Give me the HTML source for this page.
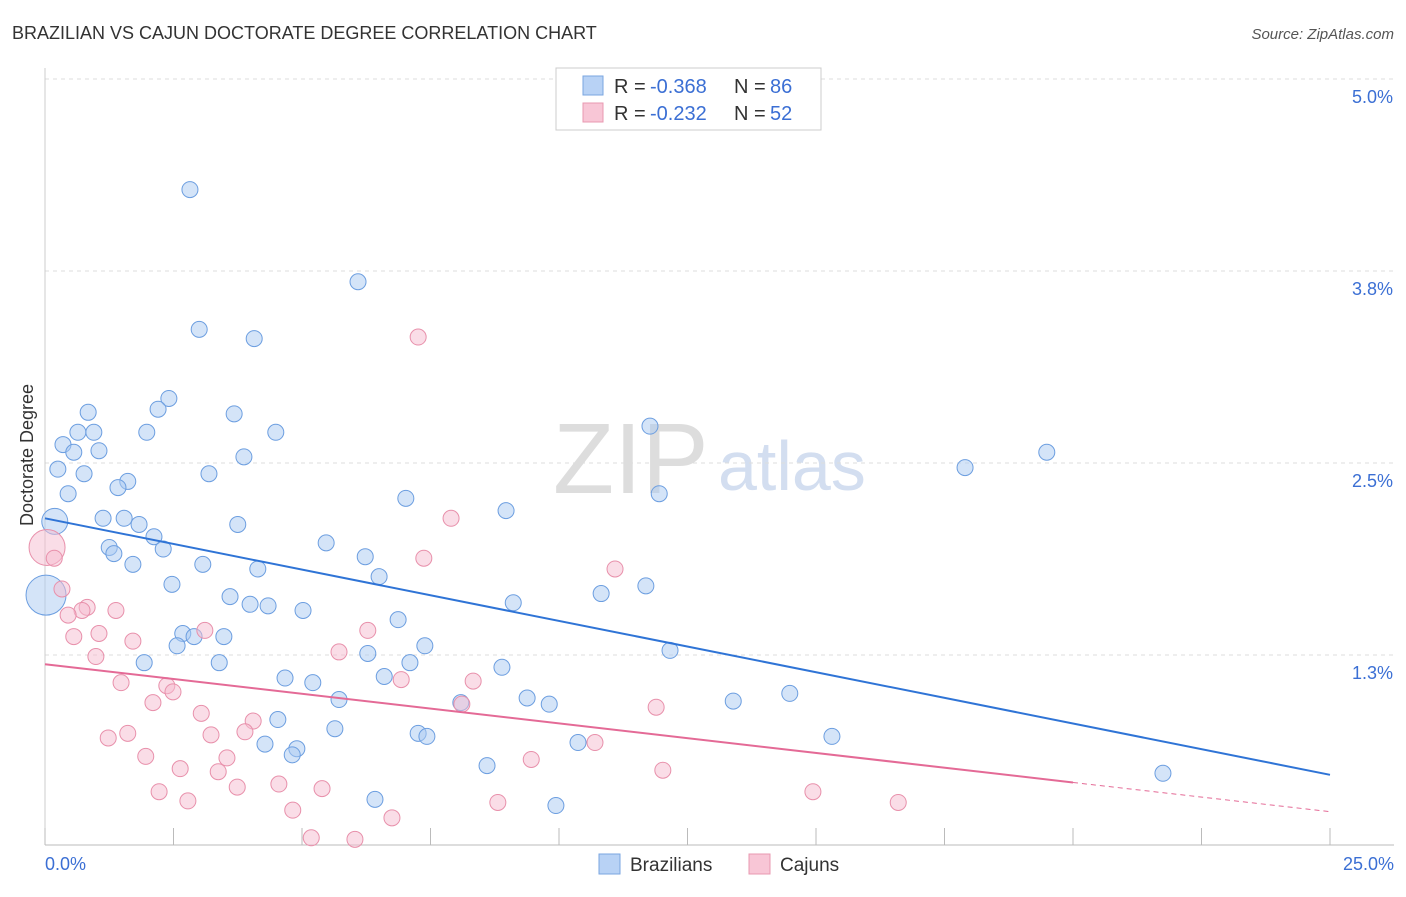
<!DOCTYPE html>
<html><head><meta charset="utf-8"><style>
body{margin:0;background:#fff;font-family:"Liberation Sans",sans-serif}
svg text{font-family:"Liberation Sans",sans-serif}
</style></head><body>
<svg width="1406" height="892">
<text x="12" y="39" font-size="18" fill="#333">BRAZILIAN VS CAJUN DOCTORATE DEGREE CORRELATION CHART</text>
<text x="1394" y="39" font-size="15" fill="#555" font-style="italic" text-anchor="end">Source: ZipAtlas.com</text>
<text x="553" y="493" font-size="100" fill="#ddd" font-family="Liberation Serif">ZIP</text>
<text x="718" y="490" font-size="70" fill="#d3def0">atlas</text>
<g id="grid"></g>
<g id="axes"></g>
<g id="marks"></g>
<text transform="translate(33,455) rotate(-90)" font-size="18" fill="#333" text-anchor="middle">Doctorate Degree</text>
<g>
<rect x="556" y="68" width="265" height="62" fill="#fff" stroke="#ccc"/>
<rect x="583" y="76" width="20" height="19" fill="#b8d2f5" stroke="#7aa6e0"/>
<text x="614" y="93" font-size="20" fill="#333">R =</text>
<text x="650" y="93" font-size="20" fill="#3b6fd4">-0.368</text>
<text x="734" y="93" font-size="20" fill="#333">N =</text>
<text x="770" y="93" font-size="20" fill="#3b6fd4">86</text>
<rect x="583" y="103" width="20" height="19" fill="#f8c6d6" stroke="#e898b0"/>
<text x="614" y="120" font-size="20" fill="#333">R =</text>
<text x="650" y="120" font-size="20" fill="#3b6fd4">-0.232</text>
<text x="734" y="120" font-size="20" fill="#333">N =</text>
<text x="770" y="120" font-size="20" fill="#3b6fd4">52</text>
</g>
<g>
<rect x="599" y="854" width="21" height="20" fill="#b8d2f5" stroke="#7aa6e0"/>
<text x="630" y="871" font-size="19" fill="#333">Brazilians</text>
<rect x="749" y="854" width="21" height="20" fill="#f8c6d6" stroke="#e898b0"/>
<text x="780" y="871" font-size="19" fill="#333">Cajuns</text>
</g>
</svg>
<script>
const xTicks=[0,2.5,5,7.5,10,12.5,15,17.5,20,22.5,25];
const yTicks=[5.0,3.75,2.5,1.25];
const yTickLabels=["5.0%","3.8%","2.5%","1.3%"];
const blueX=[2.82,6.09,3.00,4.07,2.41,2.20,0.84,3.68,0.64,0.95,1.98,4.49,0.35,0.56,1.05,3.87,0.25,0.76,3.19,1.61,1.42,0.45,7.02,11.95,11.77,17.90,19.49,8.97,0.19,1.13,1.54,1.83,3.75,2.12,1.25,1.34,2.30,5.47,6.23,1.71,3.07,4.14,6.50,0.02,2.47,3.60,3.99,4.34,5.02,10.82,11.69,9.11,6.87,2.68,2.90,3.48,2.57,7.39,6.28,12.16,1.93,3.39,7.10,8.89,4.67,5.21,6.60,5.72,9.38,8.09,9.81,13.39,14.49,4.53,5.64,7.26,7.43,10.37,15.31,4.28,4.90,4.81,8.60,21.75,6.42,9.94];
const blueY=[4.28,3.68,3.37,3.31,2.92,2.85,2.83,2.82,2.70,2.70,2.70,2.70,2.62,2.57,2.58,2.54,2.46,2.43,2.43,2.38,2.34,2.30,2.27,2.30,2.74,2.47,2.57,2.19,2.12,2.14,2.14,2.10,2.10,2.02,1.95,1.91,1.94,1.98,1.89,1.84,1.84,1.81,1.76,1.64,1.71,1.63,1.58,1.57,1.54,1.65,1.70,1.59,1.48,1.39,1.37,1.37,1.31,1.31,1.26,1.28,1.20,1.20,1.20,1.17,1.10,1.07,1.11,0.96,0.97,0.94,0.93,0.95,1.00,0.83,0.77,0.74,0.72,0.68,0.72,0.67,0.64,0.60,0.53,0.48,0.31,0.27];
const blueBig={28:13,43:20};
const pinkX=[7.26,7.90,0.04,0.18,7.37,11.09,0.33,0.82,0.72,1.38,0.45,0.56,1.05,1.71,3.11,6.28,0.99,5.72,1.48,2.37,2.49,6.93,8.33,2.10,8.11,11.89,3.04,4.05,3.23,3.89,1.23,1.61,1.96,3.54,2.63,3.37,9.46,12.02,10.70,2.22,2.78,3.74,4.55,5.39,8.81,14.94,16.60,4.82,6.75,5.18,6.03];
const pinkY=[3.32,2.14,1.95,1.88,1.88,1.81,1.68,1.56,1.54,1.54,1.51,1.37,1.39,1.34,1.41,1.41,1.24,1.27,1.07,1.05,1.01,1.09,1.08,0.94,0.93,0.91,0.87,0.82,0.73,0.75,0.71,0.74,0.59,0.58,0.51,0.49,0.57,0.50,0.68,0.36,0.30,0.39,0.41,0.38,0.29,0.36,0.29,0.24,0.19,0.06,0.05];
const pinkBig={2:18};
const blueTrendX=[0,25], blueTrendY=[2.14,0.47];
const pinkTrendX=[0,20,25], pinkTrendY=[1.19,0.42,0.23];
const NS="http://www.w3.org/2000/svg";
const sx=v=>45+v*51.4, sy=v=>847-v*153.6;
function mk(tag,attrs,parent){const e=document.createElementNS(NS,tag);for(const k in attrs)e.setAttribute(k,attrs[k]);parent.appendChild(e);return e;}
const grid=document.getElementById('grid'),axes=document.getElementById('axes'),marks=document.getElementById('marks');
yTicks.forEach((t,i)=>{
 const l=mk('line',{x1:45,x2:1394,y1:sy(t),y2:sy(t),stroke:'#ddd','stroke-dasharray':'4,4'},grid);
 
 
 const tx=mk('text',{x:1393,y:sy(t)+24,'font-size':18,fill:'#3b6fd4','text-anchor':'end'},axes);
 tx.textContent=yTickLabels[i];
 
 
});
const ax=mk('line',{x1:45,x2:1394,y1:845,y2:845,stroke:'#bbb'},axes);


const ay=mk('line',{x1:45,x2:45,y1:68,y2:845,stroke:'#ccc'},axes);


xTicks.forEach(t=>{const l=mk('line',{x1:sx(t),x2:sx(t),y1:828,y2:845,stroke:'#bbb'},axes);
 
 });
[[0,'0.0%','start',45],[25,'25.0%','end',1394]].forEach(([v,s,a,x])=>{const t=mk('text',{x:x,y:870,'font-size':18,fill:'#3b6fd4','text-anchor':a},axes);t.textContent=s;
 
 });
blueX.forEach((x,i)=>{const c=mk('circle',{cx:sx(x),cy:sy(blueY[i]),r:blueBig[i]||8,fill:'#a9c9f2','fill-opacity':0.5,stroke:'#6c9ee0','stroke-width':1},marks);
 
 });
pinkX.forEach((x,i)=>{const c=mk('circle',{cx:sx(x),cy:sy(pinkY[i]),r:pinkBig[i]||8,fill:'#f6bccf','fill-opacity':0.5,stroke:'#e890ab','stroke-width':1},marks);
 
 });
const bl=mk('line',{x1:sx(blueTrendX[0]),y1:sy(blueTrendY[0]),x2:sx(blueTrendX[1]),y2:sy(blueTrendY[1]),stroke:'#2f74d6','stroke-width':2},marks);


const pl=mk('line',{x1:sx(pinkTrendX[0]),y1:sy(pinkTrendY[0]),x2:sx(pinkTrendX[1]),y2:sy(pinkTrendY[1]),stroke:'#e46a96','stroke-width':2},marks);


const pd=mk('line',{x1:sx(pinkTrendX[1]),y1:sy(pinkTrendY[1]),x2:sx(pinkTrendX[2]),y2:sy(pinkTrendY[2]),stroke:'#e46a96','stroke-width':1,'stroke-dasharray':'5,4'},marks);


</script>
</body></html>
